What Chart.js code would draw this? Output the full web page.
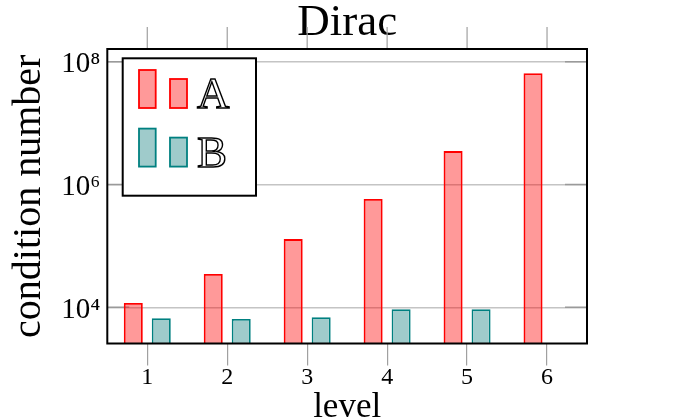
<!DOCTYPE html>
<html>
<head>
<meta charset="utf-8">
<title>Dirac</title>
<script src="https://cdn.jsdelivr.net/npm/chart.js@4/dist/chart.umd.min.js"></script>
<style>
  html, body { margin: 0; padding: 0; background: #fff; }
  #wrap { width: 679px; height: 419px; }
</style>
</head>
<body>
<div id="wrap"><canvas id="chart" width="679" height="419"></canvas></div>
<script>
// values (log scale)
var levels = ["1", "2", "3", "4", "5", "6"];
var seriesA = [11750, 34800, 129000, 580000, 3500000, 65000000];
var seriesB = [6620, 6450, 6880, 9270, 9270, null];
var yTickValues = [1e4, 1e6, 1e8];
var yTickLabels = ["10\u2074", "10\u2076", "10\u2078"];
var yMin = 2570;
var yMax = 1.61e8;

var SERIF = "'Liberation Serif', 'DejaVu Serif', serif";

(function () {
  // pgfplots-like ticks: inner ticks on y, outer ticks on top of x
  var innerTicks = {
    id: "innerTicks",
    beforeDatasetsDraw: function (chart) {
      var ctx = chart.ctx, a = chart.chartArea, y = chart.scales.y;
      ctx.save();
      ctx.strokeStyle = "#9a9a9a";
      ctx.lineWidth = 1.5;
      ctx.beginPath();
      yTickValues.forEach(function (v) {
        var py = y.getPixelForValue(v);
        ctx.moveTo(a.left, py);
        ctx.lineTo(a.left + 22, py);
        ctx.moveTo(a.right, py);
        ctx.lineTo(a.right - 22, py);
      });
      ctx.stroke();
      ctx.restore();
    },
    afterDatasetsDraw: function (chart) {
      var ctx = chart.ctx, a = chart.chartArea, x = chart.scales.x;
      ctx.save();
      ctx.strokeStyle = "#a0a0a0";
      ctx.lineWidth = 1.2;
      ctx.beginPath();
      x.ticks.forEach(function (t, i) {
        var px = x.getPixelForTick(i);
        ctx.moveTo(px, a.top);
        ctx.lineTo(px, a.top - 22);
      });
      ctx.stroke();
      ctx.strokeStyle = "#000";
      ctx.lineWidth = 2;
      ctx.strokeRect(a.left, a.top, a.right - a.left, a.bottom - a.top);
      ctx.restore();
    }
  };

  // legend with two bars per entry, outlined letters
  var barLegend = {
    id: "barLegend",
    afterDraw: function (chart) {
      var ctx = chart.ctx, a = chart.chartArea;
      var bx = a.left + 15.4, by = a.top + 9.3, bw = 133.3, bh = 137.4;
      ctx.save();
      ctx.fillStyle = "#fff";
      ctx.fillRect(bx, by, bw, bh);
      ctx.strokeStyle = "#000";
      ctx.lineWidth = 2;
      ctx.strokeRect(bx, by, bw, bh);
      chart.data.datasets.forEach(function (ds, i) {
        var base = by + 49.7 + i * 58.6;
        ctx.fillStyle = ds.backgroundColor;
        ctx.strokeStyle = ds.borderColor;
        ctx.lineWidth = 1.8;
        ctx.fillRect(bx + 16.3, base - 38, 16.7, 38);
        ctx.strokeRect(bx + 16.3, base - 38, 16.7, 38);
        ctx.fillRect(bx + 47.3, base - 29, 17, 29);
        ctx.strokeRect(bx + 47.3, base - 29, 17, 29);
        ctx.font = "45px " + SERIF;
        ctx.textBaseline = "alphabetic";
        ctx.textAlign = "left";
        ctx.fillStyle = "#fff";
        ctx.strokeStyle = "#000";
        ctx.lineWidth = 1.4;
        ctx.fillText(ds.label, bx + 74.3, base);
        ctx.strokeText(ds.label, bx + 74.3, base);
      });
      ctx.restore();
    }
  };

  new Chart(document.getElementById("chart"), {
    type: "bar",
    data: {
      labels: levels,
      datasets: [
        {
          label: "A",
          data: seriesA,
          backgroundColor: "rgba(255, 0, 0, 0.4)",
          borderColor: "rgb(255, 0, 0)",
          borderWidth: 1.8,
          categoryPercentage: 0.7,
          barPercentage: 0.68
        },
        {
          label: "B",
          data: seriesB,
          backgroundColor: "#9fcbcb",
          borderColor: "#008080",
          borderWidth: 1.8,
          categoryPercentage: 0.7,
          barPercentage: 0.68
        }
      ]
    },
    options: {
      responsive: false,
      animation: false,
      devicePixelRatio: 1,
      layout: { padding: { left: 0, right: 92, top: 0, bottom: 0 } },
      plugins: {
        legend: { display: false },
        tooltip: { enabled: false },
        title: {
          display: true,
          fullSize: false,
          text: "Dirac",
          color: "#000",
          font: { family: SERIF, size: 45, weight: "normal", lineHeight: 0.9 },
          padding: { top: 2.5, bottom: 6 }
        }
      },
      scales: {
        x: {
          offset: true,
          grid: {
            display: true,
            offset: false,
            drawOnChartArea: false,
            drawTicks: true,
            tickLength: 22,
            color: "#a0a0a0",
            lineWidth: 1.2
          },
          border: { display: false },
          ticks: {
            color: "#000",
            padding: 0,
            font: { family: SERIF, size: 24, lineHeight: 1 }
          },
          title: {
            display: true,
            text: "level",
            color: "#000",
            font: { family: SERIF, size: 35, lineHeight: 0.62 },
            padding: { top: 0, bottom: 0 }
          },
          afterFit: function (scale) {
            scale.height = 75.5;
          }
        },
        y: {
          type: "logarithmic",
          min: yMin,
          max: yMax,
          grid: {
            color: "#c4c4c4",
            lineWidth: 1.5,
            drawTicks: false
          },
          border: { display: false },
          afterBuildTicks: function (scale) {
            scale.ticks = yTickValues.map(function (v) {
              return { value: v };
            });
          },
          ticks: {
            color: "#000",
            padding: 7,
            labelOffset: 3,
            font: { family: SERIF, size: 29 },
            callback: function (value) {
              var i = yTickValues.indexOf(value);
              return i >= 0 ? yTickLabels[i] : "";
            }
          },
          title: {
            display: true,
            text: "condition number",
            color: "#000",
            font: { family: SERIF, size: 40, lineHeight: 1.1 },
            padding: { top: 7.5, bottom: 0 }
          },
          afterFit: function (scale) {
            scale.width = 107.3;
          }
        }
      }
    },
    plugins: [innerTicks, barLegend]
  });
})();
</script>
</body>
</html>
